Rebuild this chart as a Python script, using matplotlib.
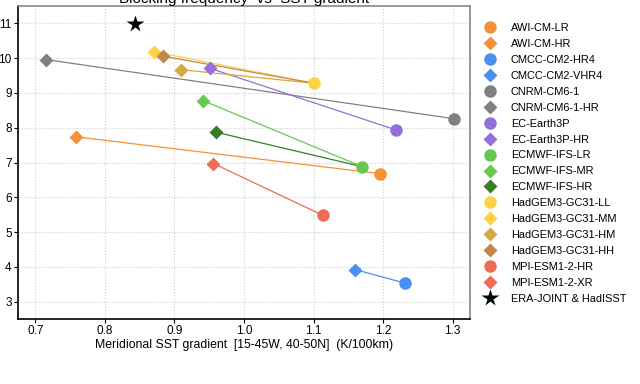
import matplotlib
matplotlib.use('Agg')
from matplotlib import pyplot as plt

plt.rcParams['font.family'] = ['Liberation Sans', 'DejaVu Sans']

# low-res models (circles)
lr_names = ['AWI-CM-LR', 'CMCC-CM2-HR4', 'CNRM-CM6-1', 'EC-Earth3P', 'ECMWF-IFS-LR',
            'HadGEM3-GC31-LL', 'MPI-ESM1-2-HR']
lr_x = [1.195, 1.232, 1.302, 1.218, 1.170, 1.100, 1.1135]
lr_y = [6.68, 3.53, 8.26, 7.94, 6.88, 9.28, 5.48]
lr_colors = ['#f39234', '#4a90f2', '#808080', '#9370db', '#66c84f', '#fbd443', '#ee6b55']

# high-res models (diamonds), with index of their low-res partner
hr_names = ['AWI-CM-HR', 'CMCC-CM2-VHR4', 'CNRM-CM6-1-HR', 'EC-Earth3P-HR', 'ECMWF-IFS-MR',
            'ECMWF-IFS-HR', 'HadGEM3-GC31-MM', 'HadGEM3-GC31-HM', 'HadGEM3-GC31-HH', 'MPI-ESM1-2-XR']
hr_x = [0.758, 1.160, 0.715, 0.951, 0.941, 0.960, 0.870, 0.909, 0.883, 0.956]
hr_y = [7.74, 3.92, 9.96, 9.71, 8.78, 7.87, 10.19, 9.67, 10.06, 6.97]
hr_partner = [0, 1, 2, 3, 4, 4, 5, 5, 5, 6]
hr_colors = ['#f39234', '#4a90f2', '#808080', '#9370db', '#66c84f', '#3a7d28',
             '#fbd443', '#d4a842', '#c4874b', '#ee6b55']

obs_name = 'ERA-JOINT & HadISST'
obs_x = 0.843
obs_y = 10.98

legend_order = ['AWI-CM-LR', 'AWI-CM-HR', 'CMCC-CM2-HR4', 'CMCC-CM2-VHR4', 'CNRM-CM6-1',
                'CNRM-CM6-1-HR', 'EC-Earth3P', 'EC-Earth3P-HR', 'ECMWF-IFS-LR', 'ECMWF-IFS-MR',
                'ECMWF-IFS-HR', 'HadGEM3-GC31-LL', 'HadGEM3-GC31-MM', 'HadGEM3-GC31-HM',
                'HadGEM3-GC31-HH', 'MPI-ESM1-2-HR', 'MPI-ESM1-2-XR', obs_name]

fig = plt.figure(figsize=(6.4, 3.84), dpi=100)
ax = fig.add_axes([18 / 640, 65 / 384, 452 / 640, 313 / 384])

handles = {}
for i in range(len(hr_names)):
    j = hr_partner[i]
    ax.plot([lr_x[j], hr_x[i]], [lr_y[j], hr_y[i]], color=hr_colors[i], lw=0.9, zorder=2)

for i in range(len(lr_names)):
    h, = ax.plot(lr_x[i], lr_y[i], 'o', color=lr_colors[i], ms=9, mec='none', zorder=3,
                 label=lr_names[i])
    handles[lr_names[i]] = h
for i in range(len(hr_names)):
    h, = ax.plot(hr_x[i], hr_y[i], 'D', color=hr_colors[i], ms=7.5, mec='none', zorder=3,
                 label=hr_names[i])
    handles[hr_names[i]] = h
h, = ax.plot(obs_x, obs_y, '*', color='black', ms=13, mec='none', zorder=4, label=obs_name)
handles[obs_name] = h

ax.set_xlim(0.675, 1.325)
ax.set_ylim(2.5, 11.5)
ax.set_xticks([0.7, 0.8, 0.9, 1.0, 1.1, 1.2, 1.3])
ax.set_yticks([3, 4, 5, 6, 7, 8, 9, 10, 11])
ax.tick_params(labelsize=8.5, length=3, width=0.8, pad=1.5)
ax.grid(True, color='#cccccc', linestyle=':', linewidth=0.8)
ax.set_axisbelow(True)
for s in ['left', 'bottom']:
    ax.spines[s].set_color('black')
    ax.spines[s].set_linewidth(1.2)
for s in ['right', 'top']:
    ax.spines[s].set_color('#888888')
    ax.spines[s].set_linewidth(1.2)

ax.set_xlabel('Meridional SST gradient  [15-45W, 40-50N]  (K/100km)', fontsize=8.8, labelpad=1.5)
ax.set_title('Blocking frequency  vs  SST gradient', fontsize=11, pad=0.5)

ax.legend([handles[n] for n in legend_order], legend_order, loc='upper left',
          bbox_to_anchor=(1.01, 0.97), frameon=False, fontsize=7.9, labelspacing=0.54,
          handletextpad=1.1, borderaxespad=0.3, handlelength=1.5)

fig.savefig('out.png', dpi=100)
